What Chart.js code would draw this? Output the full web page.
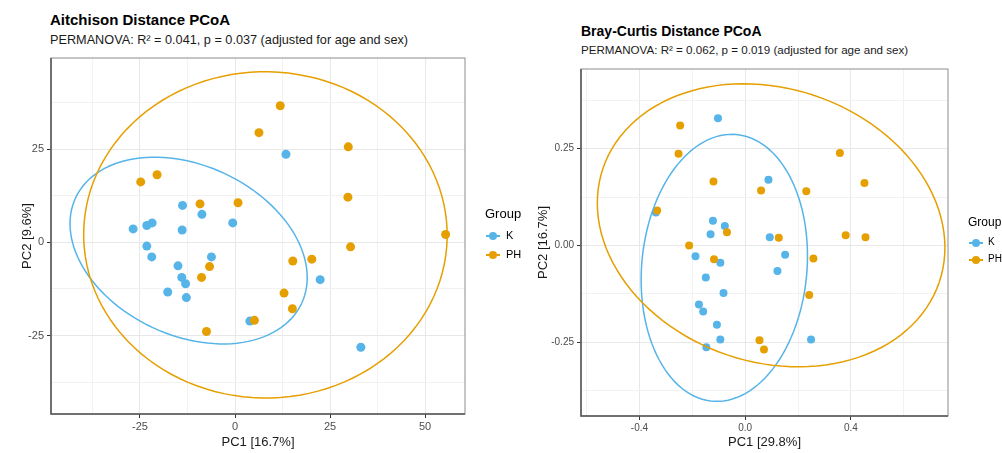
<!DOCTYPE html>
<html>
<head>
<meta charset="utf-8">
<script src="https://cdn.jsdelivr.net/npm/chart.js@4"></script>
<style>
  body { margin: 0; background: #fff; width: 1002px; height: 453px; position: relative; overflow: hidden;
         font-family: 'Liberation Sans', Arial, sans-serif; color: #000; }
  .box { position: absolute; }
  .title { position: absolute; font-weight: bold; white-space: nowrap; line-height: 1; }
  .sub { position: absolute; white-space: nowrap; line-height: 1; color: #1a1a1a; }
  .legend { position: absolute; font-size: 13px; line-height: 1; }
  .legend .row { position: relative; height: 19px; font-size: 11px; }
  .legend .key { position: absolute; left: 0; top: 2px; width: 16px; height: 12px; }
  .legend .key i { position: absolute; left: 1px; right: 1px; top: 5px; height: 1.5px; }
  .legend .key b { position: absolute; left: 4px; top: 2px; width: 8px; height: 8px; border-radius: 50%; }
  .legend .row span { position: absolute; left: 21px; top: 2px; }
</style>
</head>
<body>
<div class="title" style="left:50px; top:12px; font-size:15px;">Aitchison Distance PCoA</div>
<div class="sub" style="left:50px; top:34px; font-size:12.7px;">PERMANOVA: R² = 0.041, p = 0.037 (adjusted for age and sex)</div>
<div class="title" style="left:581px; top:24px; font-size:14px;">Bray-Curtis Distance PCoA</div>
<div class="sub" style="left:581px; top:44px; font-size:11.6px;">PERMANOVA: R² = 0.062, p = 0.019 (adjusted for age and sex)</div>

<canvas id="ait" class="box" style="left:0; top:0;"></canvas>
<canvas id="bc" class="box" style="left:500px; top:0;"></canvas>

<div class="legend" style="left:485px; top:207px;">
  <div style="margin-bottom:8px;">Group</div>
  <div class="row"><div class="key"><i style="background:#56B4E9"></i><b style="background:#56B4E9"></b></div><span>K</span></div>
  <div class="row"><div class="key"><i style="background:#E69F00"></i><b style="background:#E69F00"></b></div><span>PH</span></div>
</div>
<div class="legend" style="left:968px; top:216px; font-size:12px;">
  <div style="margin-bottom:7px;">Group</div>
  <div class="row" style="height:17px; font-size:10px;"><div class="key"><i style="background:#56B4E9"></i><b style="background:#56B4E9"></b></div><span style="left:20px">K</span></div>
  <div class="row" style="height:17px; font-size:10px;"><div class="key"><i style="background:#E69F00"></i><b style="background:#E69F00"></b></div><span style="left:20px">PH</span></div>
</div>

<script>
const groups = ['K', 'PH'];
const groupColors = ['#56B4E9', '#E69F00'];

// Aitchison PCoA scores
const aitK_x = [-26.8, -23.2, -21.8, -13.8, -8.7, -13.9, -0.6, -23.2, -21.9, -15.0, -14.0, -13.0, -17.7, -12.8, -6.2, 3.9, 13.4, 22.4, 33.1];
const aitK_y = [3.6, 4.5, 5.2, 9.9, 7.5, 3.3, 5.2, -1.0, -3.9, -6.3, -9.4, -11.1, -13.3, -14.8, -3.9, -21.1, 23.6, -10.0, -28.1];
const aitPH_x = [-24.8, -20.5, -9.2, 0.8, 6.3, 11.9, 29.8, 29.7, 30.4, 55.4, -6.7, -8.8, -7.5, 5.1, 15.2, 20.2, 12.9, 15.1];
const aitPH_y = [16.2, 18.1, 10.3, 10.6, 29.4, 36.6, 25.6, 12.1, -1.2, 2.1, -6.5, -9.4, -23.9, -20.9, -5.0, -4.5, -13.6, -17.8];

// Bray-Curtis PCoA scores
const bcK_x = [-0.103, -0.338, -0.122, -0.131, -0.077, 0.088, 0.093, 0.151, -0.094, -0.188, 0.122, -0.149, -0.082, -0.175, -0.159, -0.107, -0.094, -0.147, 0.249];
const bcK_y = [0.329, 0.085, 0.064, 0.029, 0.050, 0.170, 0.021, -0.024, -0.045, -0.028, -0.066, -0.083, -0.123, -0.153, -0.171, -0.205, -0.243, -0.263, -0.243];
const bcPH_x = [-0.246, -0.252, -0.120, -0.333, -0.212, -0.118, -0.069, 0.060, 0.127, 0.231, 0.358, 0.451, 0.380, 0.455, 0.258, 0.242, 0.054, 0.071];
const bcPH_y = [0.310, 0.237, 0.165, 0.090, 0.000, -0.036, 0.034, 0.142, 0.020, 0.140, 0.239, 0.161, 0.026, 0.021, -0.034, -0.128, -0.245, -0.269];

// group ellipses: [centerX, centerY, axis1X, axis1Y, axis2X, axis2Y]
const aitEllipseK = [-12.2, -2.2, 29.7, -14.2, -9.55, -20.6];
const aitEllipsePH = [8.0, 2.0, 47.8, -1.0, 1.0, 43.7];
const bcEllipseK = [-0.079, -0.058, 0.314, 0.01, 0.019, 0.345];
const bcEllipsePH = [0.098, 0.052, 0.636, -0.147, -0.166, -0.335];

// axis ranges and ticks
const aitXRange = [-48.4, 60.5];
const aitYRange = [-46, 49.4];
const aitXTicks = [-25, 0, 25, 50];
const aitYTicks = [-25, 0, 25];
const bcXRange = [-0.621, 0.767];
const bcYRange = [-0.441, 0.456];
const bcXTicks = [-0.4, 0.0, 0.4];
const bcYTicks = [-0.25, 0.00, 0.25];

Chart.defaults.font.family = "'Liberation Sans', Arial, sans-serif";

function toPoints(xs, ys) {
    return xs.map((x, i) => ({ x: x, y: ys[i] }));
}

function isMajor(v, list) {
    return list.some(t => Math.abs(t - v) < 1e-6);
}

const ellipsePlugin = {
    id: 'ellipses',
    afterDatasetsDraw(chart, args, opts) {
        const { ctx, chartArea, scales } = chart;
        ctx.save();
        ctx.beginPath();
        ctx.rect(chartArea.left, chartArea.top, chartArea.width, chartArea.height);
        ctx.clip();
        ctx.lineWidth = 1.5;
        opts.items.forEach(e => {
            const p = e.params;
            ctx.strokeStyle = e.color;
            ctx.beginPath();
            for (let i = 0; i <= 120; i++) {
                const t = i / 120 * Math.PI * 2;
                const x = p[0] + p[2] * Math.cos(t) + p[4] * Math.sin(t);
                const y = p[1] + p[3] * Math.cos(t) + p[5] * Math.sin(t);
                const px = scales.x.getPixelForValue(x);
                const py = scales.y.getPixelForValue(y);
                if (i === 0) ctx.moveTo(px, py); else ctx.lineTo(px, py);
            }
            ctx.stroke();
        });
        ctx.restore();
    }
};

const borderPlugin = {
    id: 'panelBorder',
    afterDraw(chart) {
        const { ctx, chartArea: a } = chart;
        ctx.save();
        ctx.strokeStyle = '#8c8c8c';
        ctx.lineWidth = 1;
        ctx.strokeRect(a.left, a.top, a.width, a.height);
        ctx.strokeStyle = '#555';
        ctx.lineWidth = 1.5;
        ctx.beginPath();
        ctx.moveTo(a.left, a.top);
        ctx.lineTo(a.left, a.bottom);
        ctx.lineTo(a.right, a.bottom);
        ctx.stroke();
        ctx.restore();
    }
};

function drawPanel(id, opt) {
    const canvas = document.getElementById(id);
    canvas.width = opt.width;
    canvas.height = 453;
    canvas.style.width = opt.width + 'px';
    canvas.style.height = '453px';

    new Chart(canvas, {
        type: 'scatter',
        data: {
            datasets: [{
                label: groups[0],
                data: toPoints(opt.kx, opt.ky),
                backgroundColor: groupColors[0],
                borderWidth: 0,
                pointRadius: opt.radius,
                order: 2
            }, {
                label: groups[1],
                data: toPoints(opt.phx, opt.phy),
                backgroundColor: groupColors[1],
                borderWidth: 0,
                pointRadius: opt.radius,
                order: 1
            }]
        },
        options: {
            responsive: false,
            animation: false,
            events: [],
            layout: { padding: opt.padding },
            plugins: {
                legend: { display: false },
                tooltip: { enabled: false },
                ellipses: {
                    items: [
                        { params: opt.ellK, color: groupColors[0] },
                        { params: opt.ellPH, color: groupColors[1] }
                    ]
                }
            },
            scales: {
                x: {
                    type: 'linear',
                    min: opt.xRange[0],
                    max: opt.xRange[1],
                    afterFit: s => { s.height = opt.xHeight; },
                    ticks: {
                        stepSize: opt.xStep,
                        includeBounds: false,
                        autoSkip: false,
                        maxRotation: 0,
                        padding: 2,
                        color: '#4d4d4d',
                        font: { size: opt.tickSize },
                        callback: v => isMajor(v, opt.xTicks) ? v.toFixed(opt.xDigits) : ''
                    },
                    grid: {
                        color: c => isMajor(c.tick.value, opt.xTicks) ? '#e8e8e8' : '#f2f2f2',
                        tickColor: c => isMajor(c.tick.value, opt.xTicks) ? '#333' : 'rgba(0,0,0,0)',
                        tickLength: 4,
                        drawTicks: true
                    },
                    border: { display: false },
                    title: {
                        display: true,
                        text: opt.xTitle,
                        color: '#1a1a1a',
                        font: { size: opt.titleSize },
                        padding: { top: 2, bottom: 2 }
                    }
                },
                y: {
                    type: 'linear',
                    min: opt.yRange[0],
                    max: opt.yRange[1],
                    afterFit: s => { s.width = opt.yWidth; },
                    ticks: {
                        stepSize: opt.yStep,
                        includeBounds: false,
                        autoSkip: false,
                        padding: 3,
                        color: '#4d4d4d',
                        font: { size: opt.tickSize },
                        callback: v => isMajor(v, opt.yTicks) ? v.toFixed(opt.yDigits) : ''
                    },
                    grid: {
                        color: c => isMajor(c.tick.value, opt.yTicks) ? '#e8e8e8' : '#f2f2f2',
                        tickColor: c => isMajor(c.tick.value, opt.yTicks) ? '#333' : 'rgba(0,0,0,0)',
                        tickLength: 4
                    },
                    border: { display: false },
                    title: {
                        display: true,
                        text: opt.yTitle,
                        color: '#1a1a1a',
                        font: { size: opt.titleSize },
                        padding: { top: 4, bottom: 4 }
                    }
                }
            }
        },
        plugins: [ellipsePlugin, borderPlugin]
    });
}

drawPanel('ait', {
    width: 480,
    padding: { left: 16, top: 58, right: 15, bottom: 1 },
    xHeight: 38, yWidth: 35,
    kx: aitK_x, ky: aitK_y, phx: aitPH_x, phy: aitPH_y,
    ellK: aitEllipseK, ellPH: aitEllipsePH,
    xRange: aitXRange, yRange: aitYRange,
    xTicks: aitXTicks, yTicks: aitYTicks,
    xStep: 12.5, yStep: 12.5, xDigits: 0, yDigits: 0,
    xTitle: 'PC1 [16.7%]', yTitle: 'PC2 [9.6%]',
    radius: 4.5, tickSize: 11, titleSize: 13
});

drawPanel('bc', {
    width: 502,
    padding: { left: 32, top: 69, right: 54, bottom: 1 },
    xHeight: 36, yWidth: 49,
    kx: bcK_x, ky: bcK_y, phx: bcPH_x, phy: bcPH_y,
    ellK: bcEllipseK, ellPH: bcEllipsePH,
    xRange: bcXRange, yRange: bcYRange,
    xTicks: bcXTicks, yTicks: bcYTicks,
    xStep: 0.2, yStep: 0.125, xDigits: 1, yDigits: 2,
    xTitle: 'PC1 [29.8%]', yTitle: 'PC2 [16.7%]',
    radius: 4, tickSize: 10, titleSize: 13
});
</script>
</body>
</html>
